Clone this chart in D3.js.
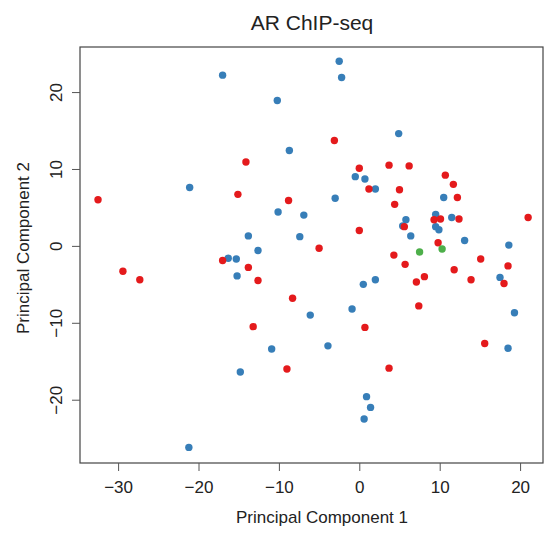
<!DOCTYPE html>
<html>
<head>
<meta charset="utf-8">
<script src="https://cdn.jsdelivr.net/npm/d3@7"></script>
<style>
  body { margin: 0; background: #fff; }
  svg text { font-family: "Liberation Sans", Arial, Helvetica, sans-serif; fill: #222; }
</style>
</head>
<body>
<div id="scatter"></div>
<script>
// PCA scores
var blueX = [-17.0, -10.2, -2.5, -2.2, -8.7, -21.1, 4.9, -0.5, 0.7, 2.0, 10.5, -3.0, -10.1, -6.9,
  9.5, 5.8, 11.5, 5.4, 9.5, 9.9, -7.4, 6.4, 13.1, 18.6, -13.8, -12.6, -16.3, -15.3, -15.2,
  0.5, 2.0, 17.5, -0.9, -6.1, 19.3, -3.9, 18.5, -10.9, -14.8, 0.9, 1.4, 0.6, -21.2];
var blueY = [22.2, 18.9, 24.0, 21.9, 12.4, 7.6, 14.6, 9.0, 8.7, 7.4, 6.3, 6.2, 4.4, 4.0,
  4.1, 3.4, 3.7, 2.6, 2.5, 2.1, 1.2, 1.3, 0.7, 0.1, 1.3, -0.6, -1.6, -1.7, -3.9,
  -5.0, -4.4, -4.1, -8.2, -9.0, -8.7, -13.0, -13.3, -13.4, -16.4, -19.6, -21.0, -22.5, -26.2];

var redX = [-14.1, -15.1, -32.5, -8.8, -3.1, 0.0, 3.7, 6.2, 10.7, 11.7, 1.2, 5.0, 12.2, 4.4,
  9.3, 10.1, 12.4, 21.0, 5.6, 0.0, -5.0, 9.8, 4.3, 15.1, 5.7, 18.5, 11.8, 13.9, 18.0, 8.1,
  7.1, -8.3, 7.4, 0.7, 15.6, -9.0, 3.7, -17.0, -29.4, -27.3, -13.8, -12.6, -13.2];
var redY = [10.9, 6.7, 6.0, 5.9, 13.7, 10.1, 10.5, 10.4, 9.2, 8.0, 7.4, 7.3, 6.3, 5.4,
  3.4, 3.5, 3.5, 3.7, 2.5, 2.0, -0.3, 0.4, -1.2, -1.7, -2.4, -2.6, -3.1, -4.4, -4.9, -4.0,
  -4.7, -6.8, -7.8, -10.6, -12.7, -16.0, -15.9, -1.9, -3.3, -4.4, -2.8, -4.5, -10.5];

var greenX = [7.5, 10.3];
var greenY = [-0.8, -0.4];

var groups = [
  { xs: blueX, ys: blueY, color: "#377EB8" },
  { xs: redX, ys: redY, color: "#E41A1C" },
  { xs: greenX, ys: greenY, color: "#4DAF4A" }
];

var xTicks = [-30, -20, -10, 0, 10, 20];
var yTicks = [-20, -10, 0, 10, 20];

var svgWidth = 544;
var svgHeight = 533;

// plot box in pixels
var box = { left: 80, right: 543, top: 47, bottom: 463 };

var svg = d3.select("#scatter")
  .append("svg")
  .attr("width", svgWidth)
  .attr("height", svgHeight);

var xScale = d3.scaleLinear()
  .domain([-34.74, 22.85])
  .range([box.left, box.right]);

var yScale = d3.scaleLinear()
  .domain([-28.23, 25.86])
  .range([box.bottom, box.top]);

// points
groups.forEach(function(g) {
  var pts = g.xs.map(function(x, i) { return [x, g.ys[i]]; });
  svg.append("g").selectAll("circle")
    .data(pts)
    .enter()
    .append("circle")
    .attr("cx", d => xScale(d[0]))
    .attr("cy", d => yScale(d[1]))
    .attr("r", 3.7)
    .attr("fill", g.color);
});

// box
svg.append("rect")
  .attr("x", box.left)
  .attr("y", box.top)
  .attr("width", box.right - box.left)
  .attr("height", box.bottom - box.top)
  .attr("fill", "none")
  .attr("stroke", "#444")
  .attr("stroke-width", 1.2);

// axes
var bottomAxis = d3.axisBottom(xScale).tickValues(xTicks).tickSize(8).tickSizeOuter(0);
var leftAxis = d3.axisLeft(yScale).tickValues(yTicks).tickSize(8).tickSizeOuter(0);

var xAxisG = svg.append("g")
  .attr("transform", "translate(0," + box.bottom + ")")
  .call(bottomAxis);
xAxisG.select(".domain").remove();
xAxisG.selectAll("line").attr("stroke", "#555");
xAxisG.selectAll("text")
  .attr("y", 30)
  .attr("dy", 0)
  .style("font-size", "17px");

var yAxisG = svg.append("g")
  .attr("transform", "translate(" + box.left + ",0)")
  .call(leftAxis);
yAxisG.select(".domain").remove();
yAxisG.selectAll("line").attr("stroke", "#555");
yAxisG.selectAll("text")
  .attr("transform", "rotate(-90)")
  .attr("x", 0)
  .attr("y", -18)
  .attr("dy", 0)
  .attr("text-anchor", "middle")
  .style("font-size", "17px");

// title and axis labels
svg.append("text")
  .attr("x", 312)
  .attr("y", 30)
  .attr("text-anchor", "middle")
  .style("font-size", "21px")
  .text("AR ChIP-seq");

svg.append("text")
  .attr("x", 322)
  .attr("y", 523)
  .attr("text-anchor", "middle")
  .style("font-size", "17px")
  .text("Principal Component 1");

svg.append("text")
  .attr("transform", "translate(29,248) rotate(-90)")
  .attr("text-anchor", "middle")
  .style("font-size", "17px")
  .text("Principal Component 2");
</script>
</body>
</html>
